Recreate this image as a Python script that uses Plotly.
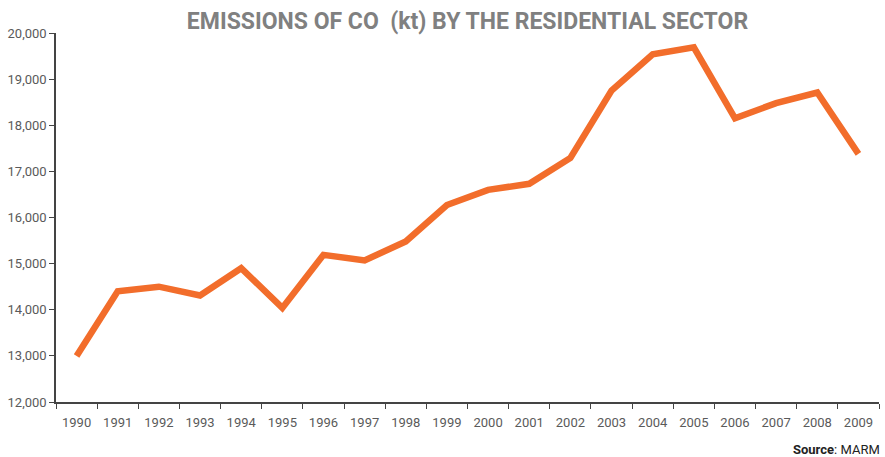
import plotly.graph_objects as go

years = [str(y) for y in range(1990, 2010)]
emissions_kt = [13000, 14400, 14500, 14310, 14900, 14040, 15190, 15070, 15480, 16270,
                16600, 16730, 17290, 18750, 19540, 19690, 18150, 18480, 18710, 17380]
y_tick_values = [12000, 13000, 14000, 15000, 16000, 17000, 18000, 19000, 20000]
y_tick_labels = ["12,000", "13,000", "14,000", "15,000", "16,000", "17,000", "18,000", "19,000", "20,000"]

FONT = "Roboto, DejaVu Sans, sans-serif"

fig = go.Figure()
fig.add_trace(go.Scatter(
    x=years, y=emissions_kt, mode="lines",
    line=dict(color="#f26d2b", width=6.5, shape="linear"),
    hoverinfo="x+y",
))

fig.update_layout(
    width=885, height=457,
    margin=dict(l=56, r=6, t=33, b=55, autoexpand=False),
    paper_bgcolor="white", plot_bgcolor="white",
    showlegend=False,
    title=dict(
        text="<b>EMISSIONS OF CO\u00a0\u00a0(kt) BY THE RESIDENTIAL SECTOR</b>",
        font=dict(family=FONT, size=23, color="#808080"),
        x=0.5, xref="paper", xanchor="center",
        y=0.955, yref="container", yanchor="middle",
    ),
    font=dict(family=FONT, size=13, color="#5a5a5a"),
)

fig.update_xaxes(
    type="category", automargin=False,
    tickson="boundaries",
    ticks="outside", ticklen=5, tickcolor="#444444", tickwidth=1,
    ticklabelstandoff=8,
    showline=True, linecolor="#444444", linewidth=1.5,
    showgrid=False, zeroline=False,
    tickfont=dict(family=FONT, size=13, color="#5a5a5a"),
    range=[-0.5, len(years) - 0.5],
)
fig.update_yaxes(
    range=[12000, 20000], automargin=False,
    tickvals=y_tick_values, ticktext=y_tick_labels,
    ticks="outside", ticklen=5, tickcolor="#444444", tickwidth=1,
    showline=True, linecolor="#444444", linewidth=1.5,
    showgrid=False, zeroline=False,
    tickfont=dict(family=FONT, size=13, color="#5a5a5a"),
)

fig.add_annotation(
    text="<b>Source</b>: MARM",
    xref="paper", yref="paper", x=1.004, y=-0.128,
    xanchor="right", yanchor="middle", showarrow=False,
    font=dict(family=FONT, size=13, color="#222222"),
)

fig.write_html("out.html", config={"displayModeBar": False},
               post_script="document.body.style.margin='0px';")
